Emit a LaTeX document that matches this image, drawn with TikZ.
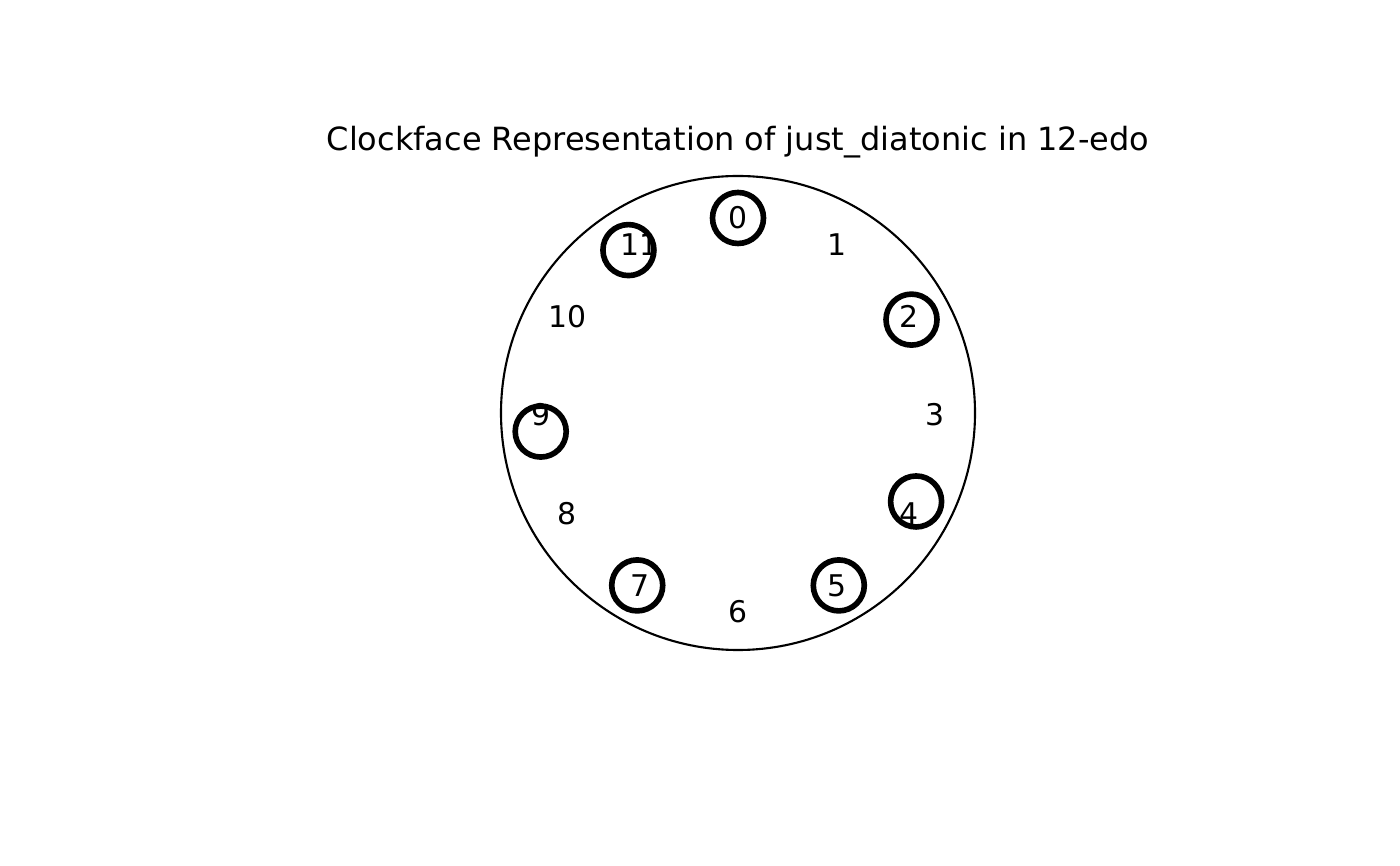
\documentclass[tikz,border=0pt]{standalone}
\usepackage{fontspec}
\setmainfont{DejaVu Sans}
\usetikzlibrary{positioning}
\tikzstyle{face}=[draw=black, line width=0.6pt]
\tikzstyle{hour}=[inner sep=0pt, font=\fontsize{8.5}{10}\selectfont, text=black, yshift=-0.02cm]
\tikzstyle{tone}=[circle, draw=black, line width=1.6pt, minimum size=0.51cm, inner sep=0pt, yshift=-0.02cm]

\begin{document}
\begin{tikzpicture}
\useasboundingbox (0,0) rectangle (14,8.66);
\node[hour, font=\fontsize{9.1}{11}\selectfont] (title) at (7.38,7.26) {Clockface Representation of just\_diatonic in 12-edo};
\begin{scope}[shift={(7.38,4.53)}]
\node[circle, face, minimum size=4.74cm, inner sep=0pt] (clock) at (0,0) {};
% pitch classes of 12-edo
\node[hour] (h0) at (90:1.97) {0};
\node[hour] (h1) at (60:1.97) {1};
\node[hour] (h2) at (30:1.97) {2};
\node[hour] (h3) at (0:1.97) {3};
\node[hour] (h4) at (-30:1.97) {4};
\node[hour] (h5) at (-60:1.97) {5};
\node[hour] (h6) at (-90:1.97) {6};
\node[hour] (h7) at (-120:1.97) {7};
\node[hour] (h8) at (-150:1.97) {8};
\node[hour] (h9) at (180:1.97) {9};
\node[hour] (h10) at (150:1.97) {10};
\node[hour] (h11) at (120:1.97) {11};
% just diatonic tones (cents x 0.3 degrees)
\node[tone] (t0) at (90:1.97) {};
\node[tone] (t1) at (28.8:1.98) {};
\node[tone] (t2) at (-25.9:1.98) {};
\node[tone] (t3) at (-59.4:1.98) {};
\node[tone] (t4) at (-120.6:1.98) {};
\node[tone] (t5) at (-175.2:1.98) {};
\node[tone] (t6) at (123.6:1.98) {};
\end{scope}
\end{tikzpicture}
\end{document}
